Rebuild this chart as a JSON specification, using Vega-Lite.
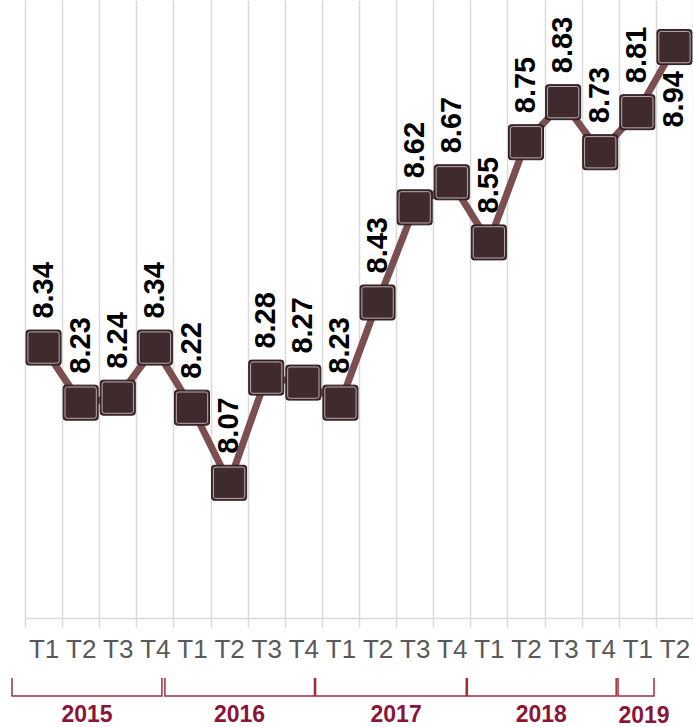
{
  "$schema": "https://vega.github.io/schema/vega-lite/v6.json",
  "padding": 0,
  "background": "#ffffff",
  "spacing": 13,
  "config": {"view": {"stroke": null}, "font": "Liberation Sans"},
  "datasets": {
    "series": [
      {"k": "2015 T1", "year": "2015", "q": "T1", "i": 0, "v": 8.34},
      {"k": "2015 T2", "year": "2015", "q": "T2", "i": 1, "v": 8.23},
      {"k": "2015 T3", "year": "2015", "q": "T3", "i": 2, "v": 8.24},
      {"k": "2015 T4", "year": "2015", "q": "T4", "i": 3, "v": 8.34},
      {"k": "2016 T1", "year": "2016", "q": "T1", "i": 4, "v": 8.22},
      {"k": "2016 T2", "year": "2016", "q": "T2", "i": 5, "v": 8.07},
      {"k": "2016 T3", "year": "2016", "q": "T3", "i": 6, "v": 8.28},
      {"k": "2016 T4", "year": "2016", "q": "T4", "i": 7, "v": 8.27},
      {"k": "2017 T1", "year": "2017", "q": "T1", "i": 8, "v": 8.23},
      {"k": "2017 T2", "year": "2017", "q": "T2", "i": 9, "v": 8.43},
      {"k": "2017 T3", "year": "2017", "q": "T3", "i": 10, "v": 8.62},
      {"k": "2017 T4", "year": "2017", "q": "T4", "i": 11, "v": 8.67},
      {"k": "2018 T1", "year": "2018", "q": "T1", "i": 12, "v": 8.55},
      {"k": "2018 T2", "year": "2018", "q": "T2", "i": 13, "v": 8.75},
      {"k": "2018 T3", "year": "2018", "q": "T3", "i": 14, "v": 8.83},
      {"k": "2018 T4", "year": "2018", "q": "T4", "i": 15, "v": 8.73},
      {"k": "2019 T1", "year": "2019", "q": "T1", "i": 16, "v": 8.81},
      {"k": "2019 T2", "year": "2019", "q": "T2", "i": 17, "v": 8.94}
    ],
    "brackets": [
      {"year": "2015", "o": 0, "x": -0.35, "y": 1},
      {"year": "2015", "o": 1, "x": -0.35, "y": 0.64},
      {"year": "2015", "o": 2, "x": 3.69, "y": 0.64},
      {"year": "2015", "o": 3, "x": 3.69, "y": 1},
      {"year": "2016", "o": 0, "x": 3.77, "y": 1},
      {"year": "2016", "o": 1, "x": 3.77, "y": 0.64},
      {"year": "2016", "o": 2, "x": 7.8, "y": 0.64},
      {"year": "2016", "o": 3, "x": 7.8, "y": 1},
      {"year": "2017", "o": 0, "x": 7.83, "y": 1},
      {"year": "2017", "o": 1, "x": 7.83, "y": 0.64},
      {"year": "2017", "o": 2, "x": 11.89, "y": 0.64},
      {"year": "2017", "o": 3, "x": 11.89, "y": 1},
      {"year": "2018", "o": 0, "x": 11.92, "y": 1},
      {"year": "2018", "o": 1, "x": 11.92, "y": 0.64},
      {"year": "2018", "o": 2, "x": 15.93, "y": 0.64},
      {"year": "2018", "o": 3, "x": 15.93, "y": 1},
      {"year": "2019", "o": 0, "x": 15.98, "y": 1},
      {"year": "2019", "o": 1, "x": 15.98, "y": 0.64},
      {"year": "2019", "o": 2, "x": 16.95, "y": 0.64},
      {"year": "2019", "o": 3, "x": 16.95, "y": 1}
    ],
    "years": [
      {"year": "2015", "x": 1.67, "y": 0.27},
      {"year": "2016", "x": 5.78, "y": 0.27},
      {"year": "2017", "x": 10.0, "y": 0.27},
      {"year": "2018", "x": 13.91, "y": 0.27},
      {"year": "2019", "x": 16.68, "y": 0.24}
    ]
  },
  "vconcat": [
    {
      "width": 693,
      "height": 618,
      "data": {"name": "series"},
      "encoding": {
        "x": {
          "field": "k",
          "type": "ordinal",
          "sort": null,
          "scale": {"range": [25, 693], "paddingInner": 0, "paddingOuter": 0},
          "axis": {
            "title": null,
            "labelExpr": "slice(datum.label, 5)",
            "labelAngle": 0,
            "labelFont": "Liberation Sans",
            "labelFontSize": 26,
            "labelColor": "#595959",
            "labelPadding": 9,
            "tickBand": "extent",
            "tickSize": 9,
            "tickColor": "#d9d9d9",
            "tickWidth": 1.5,
            "domainColor": "#d9d9d9",
            "domainWidth": 1.5,
            "grid": true,
            "gridColor": "#d9d9d9",
            "gridWidth": 1.5
          }
        },
        "y": {
          "field": "v",
          "type": "quantitative",
          "scale": {"domain": [7.8, 9.034], "nice": false, "zero": false},
          "axis": null
        }
      },
      "layer": [
        {"mark": {"type": "line", "color": "#7b4e4f", "strokeWidth": 7}},
        {
          "mark": {
            "type": "point",
            "shape": "M-0.85,-1H0.85Q1,-1 1,-0.85V0.85Q1,1 0.85,1H-0.85Q-1,1 -1,0.85V-0.85Q-1,-1 -0.85,-1Z",
            "size": 1225,
            "filled": true,
            "fill": "#3f2b2e",
            "fillOpacity": 1,
            "stroke": "#2b1d1f",
            "strokeWidth": 1,
            "opacity": 1
          }
        },
        {
          "mark": {
            "type": "point",
            "shape": "M-0.85,-1H0.85Q1,-1 1,-0.85V0.85Q1,1 0.85,1H-0.85Q-1,1 -1,0.85V-0.85Q-1,-1 -0.85,-1Z",
            "size": 980,
            "filled": false,
            "stroke": "#d8c8c8",
            "strokeWidth": 1,
            "opacity": 0.8
          }
        },
        {
          "transform": [{"filter": "datum.i < 17"}],
          "mark": {
            "type": "text",
            "angle": 270,
            "align": "left",
            "baseline": "middle",
            "dx": 29,
            "font": "Liberation Sans",
            "fontSize": 29,
            "fontWeight": "bold",
            "color": "#000000"
          },
          "encoding": {"text": {"field": "v", "type": "quantitative", "format": ".2f"}}
        },
        {
          "transform": [{"filter": "datum.i == 17"}],
          "mark": {
            "type": "text",
            "angle": 270,
            "align": "right",
            "baseline": "middle",
            "dx": -24,
            "font": "Liberation Sans",
            "fontSize": 29,
            "fontWeight": "bold",
            "color": "#000000"
          },
          "encoding": {"text": {"field": "v", "type": "quantitative", "format": ".2f"}}
        }
      ]
    },
    {
      "width": 693,
      "height": 50,
      "layer": [
        {
          "data": {"name": "brackets"},
          "mark": {"type": "line", "color": "#9e2f3f", "strokeWidth": 1.5},
          "encoding": {
            "x": {"field": "x", "type": "quantitative", "scale": {"domain": [0, 18], "range": [25, 693], "nice": false, "zero": false}, "axis": null},
            "y": {"field": "y", "type": "quantitative", "scale": {"domain": [0, 1], "nice": false}, "axis": null},
            "detail": {"field": "year"},
            "order": {"field": "o"}
          }
        },
        {
          "data": {"name": "years"},
          "mark": {
            "type": "text",
            "font": "Liberation Sans",
            "fontSize": 23,
            "fontWeight": "bold",
            "color": "#8b1538",
            "baseline": "middle",
            "align": "center"
          },
          "encoding": {
            "x": {"field": "x", "type": "quantitative"},
            "y": {"field": "y", "type": "quantitative"},
            "text": {"field": "year"}
          }
        }
      ]
    }
  ]
}
